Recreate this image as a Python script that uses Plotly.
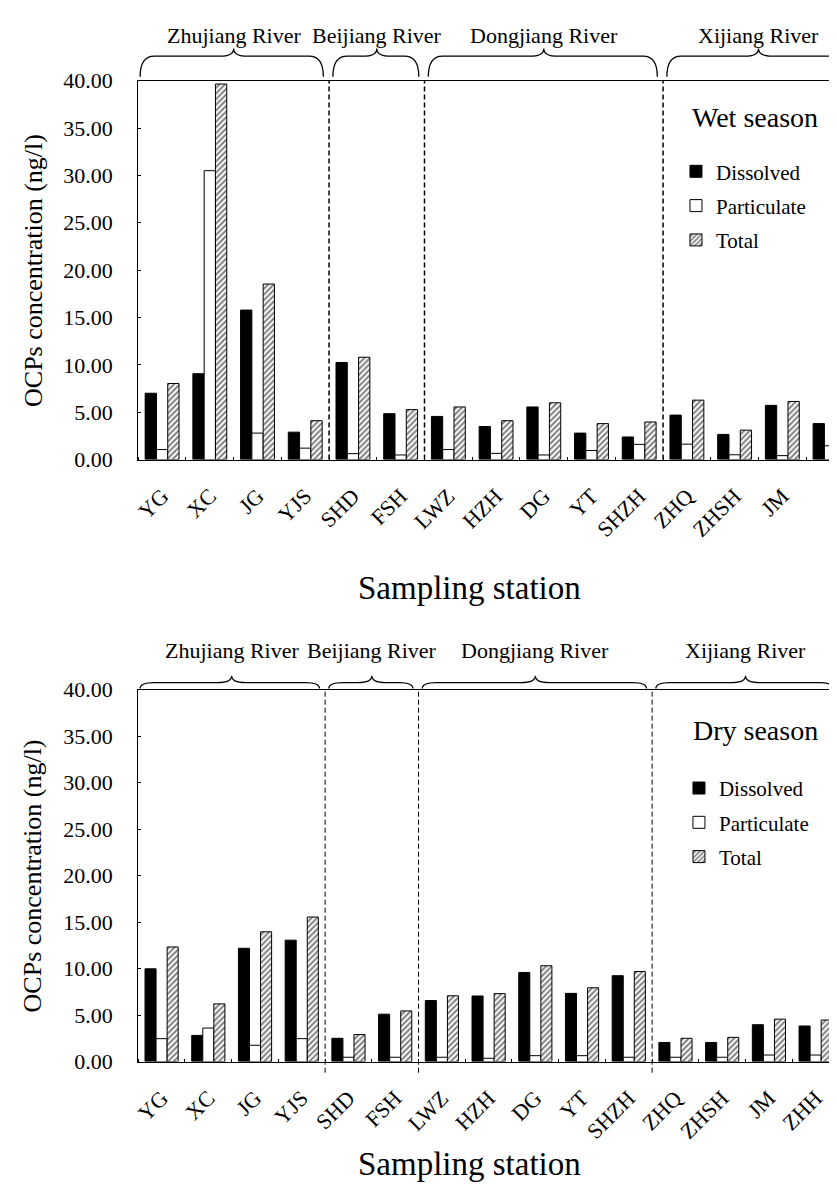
import plotly.graph_objects as go

# ---------------- data ----------------
stations = ["YG", "XC", "JG", "YJS", "SHD", "FSH", "LWZ", "HZH", "DG", "YT",
            "SHZH", "ZHQ", "ZHSH", "JM", "ZHH"]
rivers = ["Zhujiang River", "Beijiang River", "Dongjiang River", "Xijiang River"]
river_station_counts = [4, 2, 5, 4]
series_names = ["Dissolved", "Particulate", "Total"]

wet_dissolved = [7.00, 9.06, 15.78, 2.89, 10.25, 4.84, 4.55, 3.48, 5.55, 2.79, 2.38, 4.69, 2.65, 5.72, 3.79]
wet_particulate = [1.05, 30.50, 2.79, 1.20, 0.62, 0.48, 1.05, 0.65, 0.48, 0.95, 1.60, 1.62, 0.50, 0.41, 1.45]
wet_total = [8.03, 39.65, 18.53, 4.10, 10.80, 5.27, 5.55, 4.10, 5.99, 3.79, 3.96, 6.27, 3.10, 6.13, 5.27]

dry_dissolved = [9.97, 2.81, 12.18, 13.05, 2.50, 5.09, 6.56, 7.05, 9.58, 7.33, 9.23, 2.05, 2.05, 3.96, 3.82]
dry_particulate = [2.46, 3.60, 1.75, 2.46, 0.46, 0.46, 0.46, 0.35, 0.63, 0.63, 0.46, 0.46, 0.46, 0.70, 0.70]
dry_total = [12.32, 6.20, 13.95, 15.54, 2.90, 5.44, 7.07, 7.30, 10.30, 7.93, 9.68, 2.50, 2.60, 4.56, 4.46]

season_titles = ["Wet season", "Dry season"]
y_ticks = [0, 5, 10, 15, 20, 25, 30, 35, 40]

# ---------------- layout helpers ----------------
OFF = 8                      # page body margin of the browser
W, H = 837 - OFF, 1192 - OFF  # figure size so the page fits the window
FONT = "Liberation Serif, Times New Roman, serif"


def px_x(p):
    return (p - OFF) / W


def px_y(p):
    return 1 - (p - OFF) / H


x_pos = list(range(len(stations)))

# panel geometry in window pixels: plot left, top, bottom, category width
panels = [
    dict(left=134, top=70, bottom=457, cw=48),
    dict(left=134, top=692, bottom=1072, cw=47),
]

fig = go.Figure()

season_data = [
    (wet_dissolved, wet_particulate, wet_total),
    (dry_dissolved, dry_particulate, dry_total),
]

styles = [
    dict(color="black", line=dict(color="black", width=1)),
    dict(color="white", line=dict(color="black", width=1)),
    dict(color="white", line=dict(color="black", width=1),
         pattern=dict(shape="/", fgcolor="black", bgcolor="white", size=4, solidity=0.5)),
]

for i, vals in enumerate(season_data):
    xa = "x" if i == 0 else "x2"
    ya = "y" if i == 0 else "y2"
    lg = "legend" if i == 0 else "legend2"
    for name, v, st in zip(series_names, vals, styles):
        fig.add_trace(go.Bar(
            x=x_pos, y=v, name=name, xaxis=xa, yaxis=ya,
            marker=st, legend=lg, legendgroup=f"{i}{name}",
        ))

layout_axes = {}
for i, p in enumerate(panels):
    sfx = "" if i == 0 else "2"
    xr1 = -0.5 + (837 - p["left"]) / p["cw"]
    layout_axes["xaxis" + sfx] = dict(
        domain=[px_x(p["left"]), 1.0], anchor="y" + sfx, range=[-0.5, xr1],
        tickmode="array", tickvals=x_pos, ticktext=stations, tickangle=-45,
        ticks="", showline=True, linecolor="black", linewidth=1, mirror=True,
        showgrid=False, zeroline=False, ticklabelstandoff=14,
        tickfont=dict(family=FONT, size=22, color="black"),
        minor=dict(tickmode="linear", tick0=-0.5, dtick=1, ticks="inside",
                   ticklen=3, tickcolor="black", showgrid=False),
    )
    layout_axes["yaxis" + sfx] = dict(
        domain=[px_y(p["bottom"]), px_y(p["top"])], anchor="x" + sfx,
        range=[0, 40], tickmode="array", tickvals=y_ticks,
        ticktext=[f"{t:.2f}" for t in y_ticks],
        ticks="inside", ticklen=3, tickcolor="black",
        showline=True, linecolor="black", linewidth=1, mirror=False,
        showgrid=False, zeroline=False, ticklabelstandoff=20,
        tickfont=dict(family=FONT, size=22, color="black"),
    )

shapes = []
annotations = []

# group boundaries from river counts
bounds = [-0.5]
for c in river_station_counts:
    bounds.append(bounds[-1] + c)

brace_geo = [
    dict(end=66, h=45, tip=37, label=24),
    dict(end=691, h=685, tip=678, label=652),
]
xtitle_y = [588, 1177]

for i, p in enumerate(panels):
    sfx = "" if i == 0 else "2"
    xref = "x" + sfx
    # dashed separators
    for b in bounds[1:-1]:
        shapes.append(dict(
            type="line", xref=xref, yref=f"y{sfx} domain", x0=b, x1=b,
            y0=(0 if i == 0 else -0.03), y1=1,
            line=dict(color="black", width=1.5 if i == 0 else 1, dash="5px,3px"),
        ))
    g = brace_geo[i]
    yE, yH, yT = px_y(g["end"]), px_y(g["h"]), px_y(g["tip"])
    r = 0.3
    for k, rv in enumerate(rivers):
        a = bounds[k] + (0.04 if k == 0 else 0.08)
        b = bounds[k + 1] - 0.12
        m = (bounds[k] + bounds[k + 1]) / 2
        path = (f"M{a},{yE} Q{a},{yH} {a + r},{yH} L{m - r},{yH} "
                f"Q{m},{yH} {m},{yT} Q{m},{yH} {m + r},{yH} "
                f"L{b - r},{yH} Q{b},{yH} {b},{yE}")
        shapes.append(dict(type="path", xref=xref, yref="paper", path=path,
                           line=dict(color="black", width=1.3)))
        annotations.append(dict(
            x=m, y=px_y(g["label"]), xref=xref, yref="paper", text=rv,
            showarrow=False, xanchor="center", yanchor="middle",
            font=dict(family=FONT, size=22, color="black"),
        ))
    # y-axis title
    annotations.append(dict(
        x=px_x(28), y=px_y((p["top"] + p["bottom"]) / 2), xref="paper", yref="paper",
        text="OCPs concentration (ng/l)", textangle=-90, showarrow=False,
        xanchor="center", yanchor="middle",
        font=dict(family=FONT, size=26, color="black"),
    ))
    # x-axis title
    annotations.append(dict(
        x=px_x(467), y=px_y(xtitle_y[i]), xref="paper", yref="paper",
        text="Sampling station", showarrow=False, xanchor="center", yanchor="middle",
        font=dict(family=FONT, size=33, color="black"),
    ))

# season labels
season_pos = [(689, 108), (690, 734)]
for t, (sx, sy) in zip(season_titles, season_pos):
    annotations.append(dict(
        x=px_x(sx), y=px_y(sy), xref="paper", yref="paper", text=t,
        showarrow=False, xanchor="left", yanchor="middle",
        font=dict(family=FONT, size=28, color="black"),
    ))

legend_common = dict(
    xanchor="left", yanchor="top", bgcolor="rgba(0,0,0,0)", borderwidth=0,
    font=dict(family=FONT, size=21, color="black"), tracegroupgap=4,
    traceorder="grouped",
)

fig.update_layout(
    width=W, height=H, autosize=False,
    margin=dict(l=0, r=0, t=0, b=0),
    paper_bgcolor="white", plot_bgcolor="white",
    barmode="group", bargap=0.29, bargroupgap=0,
    showlegend=True,
    legend=dict(x=px_x(675), y=px_y(142), **legend_common),
    legend2=dict(x=px_x(678), y=px_y(772), **legend_common),
    shapes=shapes, annotations=annotations,
    **layout_axes,
)

fig.write_html("out.html")
